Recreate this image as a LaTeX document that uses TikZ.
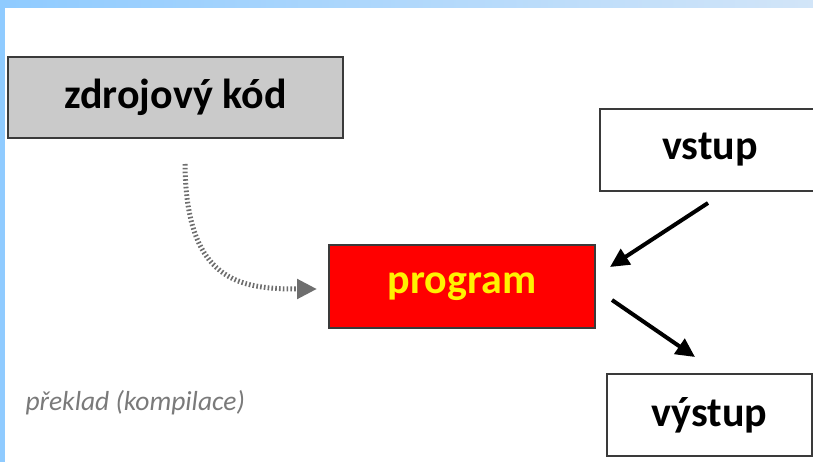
\documentclass[tikz,border=0pt]{standalone}
\usepackage{fontspec}
\setmainfont{Carlito}
\usetikzlibrary{arrows.meta}
\definecolor{bordc}{HTML}{3A3A3A}
\definecolor{boxgray}{HTML}{CACACA}
\definecolor{stripL}{HTML}{8FCBFF}
\definecolor{stripR}{HTML}{D2E5F8}
\definecolor{labgray}{HTML}{7A7A7A}
\definecolor{dotgray}{HTML}{6E6E6E}
\tikzset{
  box/.style={draw=bordc, line width=1.8pt, rectangle, inner sep=0pt,
    font=\fontsize{42}{50}\selectfont\bfseries},
  solidarrow/.style={line width=4pt, black, -{Triangle[length=19pt,width=18pt]}},
  dotarrow/.style={line width=5pt, dotgray, dash pattern=on 1.6pt off 2.2pt,
    -{Triangle[length=20pt,width=19pt]}}
}
\begin{document}
\begin{tikzpicture}[x=1pt,y=-1pt]
\clip (0,0) rectangle (813,462);
\fill[white] (0,0) rectangle (813,462);
\shade[left color=stripL, right color=stripR] (0,0) rectangle (813,7.5);
\fill[stripL] (0,0) rectangle (4.5,462);

\node[box, fill=boxgray, minimum width=335pt, minimum height=81pt] (src) at (175.5,97.5) {zdrojový kód};
\node[box, fill=white, minimum width=220pt, minimum height=82pt] (vin) at (710,150) {vstup};
\node[box, fill=red, text=yellow, minimum width=266pt, minimum height=83pt] (prog) at (462,286.5) {program};
\node[box, fill=white, minimum width=205pt, minimum height=82pt] (vout) at (709.5,415) {výstup};

\node[anchor=west, text=labgray, font=\fontsize{27.5}{33}\selectfont\itshape] (lbl) at (22,403) {překlad (kompilace)};

\coordinate (d0) at (185,164);
\coordinate (d1) at (317,289);
\draw[dotarrow] (d0) .. controls (186,282) and (240,289) .. (d1);

\coordinate (i0) at (708,203);
\coordinate (i1) at (610,267);
\draw[solidarrow] (i0) -- (i1);

\coordinate (o0) at (612,300);
\coordinate (o1) at (695,357);
\draw[solidarrow] (o0) -- (o1);
\end{tikzpicture}
\end{document}
